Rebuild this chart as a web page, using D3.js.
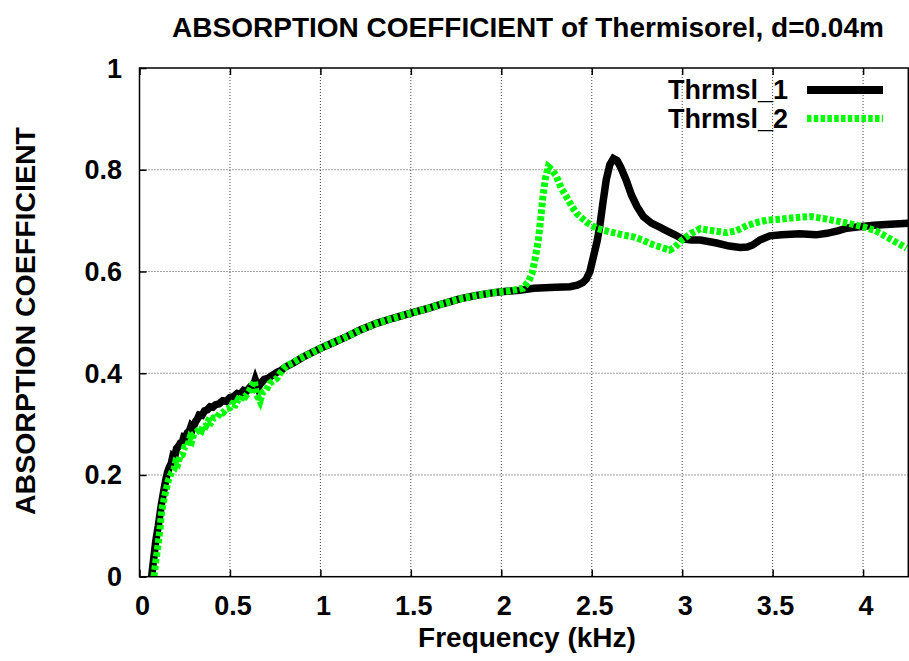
<!DOCTYPE html>
<html><head><meta charset="utf-8">
<script src="https://cdn.jsdelivr.net/npm/d3@7"></script>
<style>
html,body{margin:0;padding:0;background:#fff;}
text{font-family:"Liberation Sans",Arial,Helvetica,sans-serif;font-weight:bold;fill:#000;}
</style></head>
<body>
<svg id="chart" width="909" height="661"></svg>
<script>
const xTicks = [0,0.5,1,1.5,2,2.5,3,3.5,4];
const xTickLabels = ["0","0.5","1","1.5","2","2.5","3","3.5","4"];
const yTicks = [0,0.2,0.4,0.6,0.8,1];
const yTickLabels = ["0","0.2","0.4","0.6","0.8","1"];
const seriesNames = ["Thrmsl_1","Thrmsl_2"];

// Thrmsl_1: [frequency kHz, absorption coefficient]
const thrmsl1 = [
[0.067,0],[0.08,0.04],[0.09,0.07],[0.104,0.10],[0.12,0.14],[0.132,0.165],[0.145,0.19],[0.155,0.205],[0.165,0.215],[0.175,0.222],
[0.185,0.238],[0.195,0.236],[0.205,0.252],[0.215,0.256],[0.225,0.262],[0.235,0.262],[0.245,0.275],[0.255,0.274],[0.265,0.283],[0.275,0.286],
[0.285,0.296],[0.295,0.292],[0.31,0.305],[0.32,0.31],[0.33,0.318],[0.345,0.317],[0.36,0.326],[0.375,0.328],[0.39,0.334],[0.405,0.333],
[0.42,0.338],[0.44,0.34],[0.46,0.346],[0.48,0.345],[0.5,0.352],[0.52,0.354],[0.54,0.36],[0.556,0.358],[0.575,0.366],[0.59,0.364],
[0.61,0.372],[0.625,0.37],[0.64,0.387],[0.655,0.372],[0.67,0.38],[0.69,0.388],[0.71,0.39],[0.74,0.397],[0.76,0.402],[0.78,0.405],
[0.81,0.413],[0.85,0.42],[0.9,0.431],[0.95,0.44],[1.0,0.449],[1.07,0.46],[1.145,0.472],[1.22,0.485],[1.31,0.498],
[1.4,0.508],[1.5,0.518],[1.6,0.528],[1.68,0.537],[1.77,0.546],[1.864,0.553],[1.95,0.558],[2.0,0.56],[2.1,0.563],[2.18,0.567],
[2.3,0.569],[2.38,0.57],[2.42,0.573],[2.45,0.578],[2.47,0.585],[2.49,0.6],[2.51,0.63],[2.53,0.66],[2.545,0.69],[2.56,0.73],
[2.58,0.78],[2.6,0.81],[2.62,0.822],[2.64,0.818],[2.66,0.805],[2.69,0.78],[2.72,0.75],[2.75,0.728],[2.785,0.708],[2.83,0.695],
[2.87,0.688],[2.915,0.68],[2.96,0.672],[3.0,0.664],[3.05,0.662],[3.1,0.662],[3.19,0.656],[3.26,0.65],[3.32,0.647],[3.36,0.648],
[3.39,0.652],[3.43,0.662],[3.485,0.670],[3.55,0.672],[3.65,0.674],[3.74,0.672],[3.8,0.675],[3.86,0.68],[3.91,0.685],[3.98,0.688],
[4.06,0.691],[4.15,0.693],[4.25,0.695]
];

// Thrmsl_2
const thrmsl2 = [
[0.08,0],[0.09,0.03],[0.104,0.066],[0.115,0.10],[0.123,0.131],[0.14,0.16],[0.16,0.19],[0.178,0.205],[0.19,0.21],[0.2,0.225],
[0.212,0.222],[0.224,0.238],[0.237,0.24],[0.25,0.255],[0.265,0.256],[0.279,0.273],[0.29,0.268],[0.3,0.28],[0.315,0.284],[0.33,0.29],
[0.342,0.287],[0.353,0.298],[0.366,0.296],[0.38,0.306],[0.395,0.303],[0.41,0.312],[0.427,0.312],[0.445,0.322],[0.46,0.322],[0.48,0.33],
[0.5,0.332],[0.515,0.34],[0.53,0.338],[0.545,0.348],[0.556,0.345],[0.57,0.356],[0.585,0.354],[0.61,0.367],[0.635,0.385],[0.645,0.36],
[0.666,0.345],[0.68,0.362],[0.70,0.367],[0.72,0.38],[0.74,0.385],[0.76,0.39],[0.777,0.4],[0.81,0.414],
[0.85,0.421],[0.887,0.429],[0.95,0.44],[1.0,0.449],[1.07,0.46],[1.145,0.472],[1.22,0.485],[1.31,0.498],[1.4,0.508],[1.5,0.518],
[1.6,0.528],[1.68,0.537],[1.77,0.546],[1.864,0.553],[1.95,0.558],[2.0,0.56],[2.05,0.562],[2.12,0.567],[2.15,0.58],[2.17,0.596],
[2.19,0.63],[2.205,0.662],[2.22,0.71],[2.23,0.747],[2.245,0.785],[2.26,0.806],[2.28,0.8],[2.306,0.786],[2.33,0.765],[2.36,0.747],
[2.39,0.728],[2.417,0.714],[2.47,0.697],[2.527,0.685],[2.6,0.678],[2.67,0.672],[2.73,0.668],[2.78,0.662],[2.82,0.655],[2.88,0.648],
[2.93,0.642],[2.96,0.648],[3.0,0.662],[3.05,0.675],[3.1,0.684],[3.17,0.68],[3.246,0.676],[3.3,0.68],[3.357,0.69],[3.42,0.697],
[3.47,0.701],[3.55,0.703],[3.63,0.706],[3.71,0.708],[3.8,0.703],[3.87,0.698],[3.94,0.693],[4.0,0.688],[4.07,0.68],[4.13,0.668],
[4.19,0.656],[4.24,0.646]
];

const svg = d3.select("#chart");
const L = 139.5, R = 908.3, T = 68, B = 576.7;
const x = d3.scaleLinear().domain([0,4.25]).range([L,R]);
const y = d3.scaleLinear().domain([0,1]).range([B,T]);

// grid
const grid = svg.append("g");
grid.selectAll("line.gx").data(xTicks.filter(d=>d>0)).enter().append("line")
  .attr("x1",d=>x(d)).attr("x2",d=>x(d)).attr("y1",T).attr("y2",B)
  .attr("stroke","#444").attr("stroke-width",1).attr("stroke-dasharray","1,2");
grid.selectAll("line.gy").data(yTicks.filter(d=>d>0&&d<1)).enter().append("line")
  .attr("x1",L).attr("x2",R).attr("y1",d=>y(d)).attr("y2",d=>y(d))
  .attr("stroke","#444").attr("stroke-width",1).attr("stroke-dasharray","1,2");

// axes via d3
const tl = 7;
svg.append("g").attr("transform",`translate(0,${B})`)
  .call(d3.axisTop(x).tickValues(xTicks).tickSize(tl).tickFormat(""))
  .call(g=>g.select(".domain").remove())
  .call(g=>g.selectAll("line").attr("stroke","#000").attr("stroke-width",1.5));
svg.append("g").attr("transform",`translate(0,${T})`)
  .call(d3.axisBottom(x).tickValues(xTicks).tickSize(tl).tickFormat(""))
  .call(g=>g.select(".domain").remove())
  .call(g=>g.selectAll("line").attr("stroke","#000").attr("stroke-width",1.5));
svg.append("g").attr("transform",`translate(${L},0)`)
  .call(d3.axisRight(y).tickValues(yTicks).tickSize(tl).tickFormat(""))
  .call(g=>g.select(".domain").remove())
  .call(g=>g.selectAll("line").attr("stroke","#000").attr("stroke-width",1.5));

// tick labels
svg.selectAll("text.xl").data(xTicks).enter().append("text")
  .attr("x",(d)=>x(d)+3).attr("y",615).attr("text-anchor","middle")
  .style("font-size","27px").text((d,i)=>xTickLabels[i]);
svg.selectAll("text.yl").data(yTicks).enter().append("text")
  .attr("x",122).attr("y",d=>y(d)+9.5).attr("text-anchor","end")
  .style("font-size","27px").text((d,i)=>yTickLabels[i]);

// clip
svg.append("clipPath").attr("id","clip").append("rect")
  .attr("x",L).attr("y",T).attr("width",R-L).attr("height",B-T);

const line = d3.line().x(d=>x(d[0])).y(d=>y(d[1]));
const plot = svg.append("g").attr("clip-path","url(#clip)");
plot.append("path").datum(thrmsl1).attr("d",line).attr("fill","none")
  .attr("stroke","#000").attr("stroke-width",7.5).attr("stroke-linejoin","miter").attr("stroke-linecap","butt");
plot.append("path").datum(thrmsl2).attr("d",line).attr("fill","none")
  .attr("stroke","#00ff00").attr("stroke-width",7).attr("stroke-dasharray","4.5,2.3").attr("stroke-linejoin","miter");

// border
svg.append("rect").attr("x",L).attr("y",T).attr("width",R-L).attr("height",B-T)
  .attr("fill","none").attr("stroke","#000").attr("stroke-width",1.5);

// legend
svg.append("text").attr("x",788).attr("y",98.5).attr("text-anchor","end").style("font-size","27px").text(seriesNames[0]);
svg.append("text").attr("x",788).attr("y",127.5).attr("text-anchor","end").style("font-size","27px").text(seriesNames[1]);
svg.append("line").attr("x1",807).attr("x2",883).attr("y1",90).attr("y2",90)
  .attr("stroke","#000").attr("stroke-width",8);
svg.append("line").attr("x1",807).attr("x2",883).attr("y1",118.5).attr("y2",118.5)
  .attr("stroke","#00ff00").attr("stroke-width",7).attr("stroke-dasharray","4.5,2.3");

// titles
svg.append("text").attr("x",528).attr("y",37).attr("text-anchor","middle").style("font-size","28px")
  .text("ABSORPTION COEFFICIENT of Thermisorel, d=0.04m");
svg.append("text").attr("x",527).attr("y",647).attr("text-anchor","middle").style("font-size","28px")
  .text("Frequency (kHz)");
svg.append("text").attr("transform","translate(35,321) rotate(-90)").attr("text-anchor","middle").style("font-size","28.5px")
  .text("ABSORPTION COEFFICIENT");
</script>
</body></html>
